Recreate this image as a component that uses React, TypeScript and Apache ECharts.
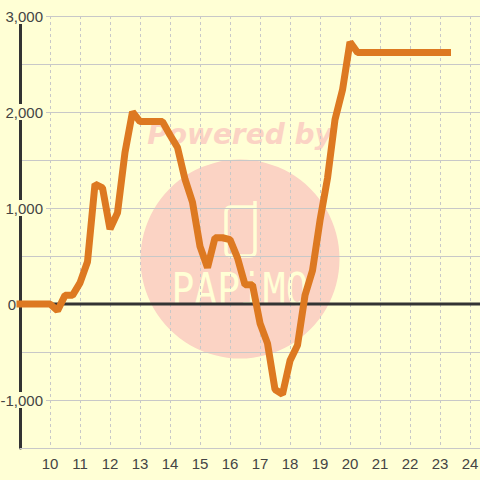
import React, { useEffect, useRef } from "react";
import * as echarts from "echarts";

const hours = [9,9.25,9.5,9.75,10,10.25,10.5,10.75,11,11.25,11.5,11.75,12,12.25,12.5,12.75,13,13.25,13.5,13.75,14,14.25,14.5,14.75,15,15.25,15.5,15.75,16,16.25,16.5,16.75,17,17.25,17.5,17.75,18,18.25,18.5,18.75,19,19.25,19.5,19.75,20,20.25,20.5,20.75,21,21.25,21.5,21.75,22,22.25,22.5,22.75,23,23.25];
const values = [0,0,0,0,0,-70,90,90,220,440,1250,1210,780,950,1580,2000,1900,1900,1900,1900,1760,1630,1300,1060,600,380,690,690,670,480,200,200,-200,-410,-890,-940,-590,-430,90,350,870,1310,1920,2230,2730,2620,2620,2620,2620,2620,2620,2620,2620,2620,2620,2620,2620,2620];
const zeroLine = [[9, 0], [25, 0]];

const BG = "#FFFFD5";
const PINK = "#FBD3C4";

echarts.graphic.registerShape(
  "papimoLogo",
  echarts.graphic.extendPath(
    "M 255 201 V 251 Q 255 256 250 256 H 231 Q 226 256 226 251 V 212 Q 226 207 231 207 H 255",
    {}
  )
);

export default function App() {
  const ref = useRef<HTMLDivElement>(null);
  useEffect(() => {
    document.body.style.margin = "0";
    const chart = echarts.init(ref.current!, null, { renderer: "svg" });
    chart.setOption({
      animation: false,
      backgroundColor: BG,
      textStyle: { fontFamily: "Liberation Sans" },
      graphic: [
        { type: "circle", z: -10, silent: true, shape: { cx: 240, cy: 259, r: 99.5 }, style: { fill: PINK } },
        { type: "text", z: -10, silent: true, x: 240, y: 134, style: { text: "Powered by", fill: PINK, font: "italic bold 28px 'DejaVu Sans'", textAlign: "center", textVerticalAlign: "middle" } },
        { type: "papimoLogo", z: -9, silent: true, x: 0, y: 0, style: { fill: "none", stroke: BG, lineWidth: 3.5 } },
        { type: "text", z: -9, silent: true, x: 240, y: 290, scaleY: 1.15, style: { text: "PAPiMO", fill: BG, font: "38px 'DejaVu Sans Mono'", textAlign: "center", textVerticalAlign: "middle" } },
      ],
      grid: { left: 20, top: 16, width: 480, height: 432, containLabel: false, outerBoundsMode: "none" },
      xAxis: {
        type: "value", min: 9, max: 25, interval: 1, z: 1,
        axisLine: { show: true, onZero: false, lineStyle: { color: "#C8C8C8", width: 1 } },
        axisTick: { show: false },
        splitLine: { show: true, lineStyle: { color: "#C8C8C8", width: 1, type: [3, 3] } },
        axisLabel: {
          color: "#444", fontSize: 15, margin: 8,
          showMinLabel: false,
          formatter: (v: number) => (v === 9 || v === 25 ? "" : String(v)),
        },
      },
      yAxis: {
        type: "value", min: -1500, max: 3000, interval: 500, z: 1,
        axisLine: { show: true, onZero: false, lineStyle: { color: "#333", width: 3 } },
        axisTick: { show: false },
        splitLine: { show: true, lineStyle: { color: "#C8C8C8", width: 1 } },
        axisLabel: {
          color: "#444", fontSize: 15, margin: -26, hideOverlap: false,
          formatter: (v: number) => {
            if (v === 0) return "{z|0}";
            if (v % 1000 !== 0) return "";
            return "{a|" + v.toLocaleString("en-US") + "}";
          },
          rich: {
            a: { color: "#444", fontSize: 15, backgroundColor: BG, height: 16, padding: [0, 3, 0, 0] },
            z: { color: "#444", fontSize: 15, padding: [0, 30, 0, 0] },
          },
        },
      },
      series: [
        { type: "line", data: zeroLine, symbol: "none", silent: true, z: 2, lineStyle: { color: "#333", width: 3 } },
        {
          type: "line", data: hours.map((h, i) => [h, values[i]]), symbol: "none", z: 4, clip: false,
          lineStyle: { color: "#DD7921", width: 7, cap: "square", join: "bevel" },
        },
      ],
    });
    return () => chart.dispose();
  }, []);
  return <div ref={ref} style={{ width: 480, height: 480 }} />;
}
